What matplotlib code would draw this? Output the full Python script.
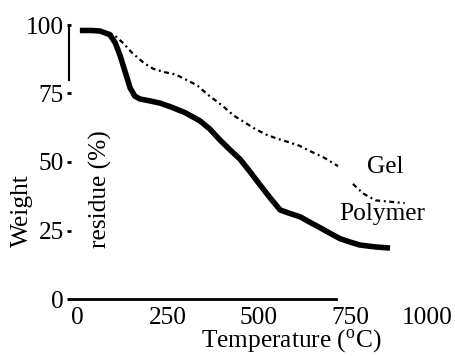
import numpy as np
import matplotlib
matplotlib.use("Agg")
import matplotlib.pyplot as plt
import matplotlib.transforms as mtransforms

plt.rcParams['font.family'] = ['Liberation Serif', 'DejaVu Serif']

# данные
polymer_t = [8, 40, 63, 90, 105, 118, 132, 146, 159, 173, 200, 228, 260, 297,
             338, 365, 393, 420, 448, 475, 503, 530, 558, 585, 613, 640, 668,
             695, 723, 750, 777, 820, 860]
polymer_w = [98, 98, 97.8, 96.5, 93.5, 89, 83, 77, 74, 73, 72.3, 71.5, 70, 68,
             65, 62, 58, 54.5, 51, 46.5, 41.6, 37, 32.5, 31.2, 30, 28, 26,
             24, 22, 20.8, 19.7, 19, 18.6]

gel_t = [8, 40, 63, 90, 105, 130, 150, 185, 210, 240, 270, 300, 330, 360,
         380, 400, 430, 460, 490, 520, 550, 580, 610, 640, 680, 717,
         np.nan,
         758, 786, 820, 860, 900]
gel_w = [98, 98, 97.5, 97, 96, 93, 90, 86, 84, 82.8, 82, 80, 78, 74.5,
         72.5, 70.5, 67, 64.5, 62, 60, 58.5, 57.3, 56, 54, 51.5, 48.5,
         np.nan,
         42, 38.5, 36, 35.5, 35]

xticks = [0, 250, 500, 750, 1000]
yticks = [0, 25, 50, 75, 100]

fs = 18.3

fig = plt.figure(figsize=(4.56, 3.56), dpi=100)
ax = fig.add_axes([69 / 456, 57 / 356, 372 / 456, 274 / 356])

ax.plot(polymer_t, polymer_w, color='black', lw=4.0, solid_capstyle='butt',
        clip_on=False)
ax.plot(gel_t, gel_w, color='black', lw=1.6, dashes=[2.2, 1.6, 0.9, 1.6],
        clip_on=False)

ax.set_xlim(-22, 1000)
ax.set_ylim(0, 100)
ax.set_xticks(xticks)
ax.set_yticks(yticks)

for s in ['top', 'right']:
    ax.spines[s].set_visible(False)
ax.spines['bottom'].set_bounds(-22, 712)
ax.spines['left'].set_bounds(80, 100)
ax.spines['bottom'].set_linewidth(2.0)
ax.spines['left'].set_linewidth(1.5)

ax.tick_params(axis='x', length=0, pad=6, labelsize=fs)
ax.tick_params(axis='y', length=3.5, width=2, direction='inout', pad=2,
               labelsize=fs)

# последняя подпись оси x на оригинале сдвинута влево
fig.canvas.draw()
last = ax.get_xticklabels()[-1]
last.set_transform(last.get_transform() +
                   mtransforms.ScaledTranslation(-14 / 100, 0, fig.dpi_scale_trans))

fig.text(291 / 456, 1 - 341 / 356, 'Temperature ($\\mathregular{^oC}$)',
         ha='center', va='center', fontsize=fs)
fig.text(22 / 456, 1 - 211 / 356, 'Weight', rotation=90,
         ha='center', va='center', fontsize=fs)
fig.text(100 / 456, 1 - 189 / 356, 'residue (%)', rotation=90,
         ha='center', va='center', fontsize=fs)

fig.text(385 / 456, 1 - 167 / 356, 'Gel', ha='center', va='center',
         fontsize=fs)
fig.text(382 / 456, 1 - 214 / 356, 'Polymer', ha='center', va='center',
         fontsize=fs)

fig.savefig('out.png', dpi=100)
